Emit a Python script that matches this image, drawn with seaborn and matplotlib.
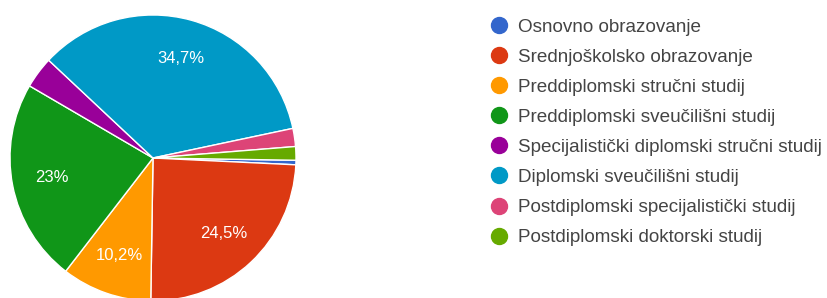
import matplotlib
matplotlib.use("Agg")
import matplotlib.pyplot as plt
from matplotlib.lines import Line2D
import seaborn as sns

categories = [
    "Osnovno obrazovanje",
    "Srednjoškolsko obrazovanje",
    "Preddiplomski stručni studij",
    "Preddiplomski sveučilišni studij",
    "Specijalistički diplomski stručni studij",
    "Diplomski sveučilišni studij",
    "Postdiplomski specijalistički studij",
    "Postdiplomski doktorski studij",
]
counts = [1, 48, 20, 45, 7, 68, 4, 3]
colors = ["#3366cc", "#dc3912", "#ff9900", "#109618",
          "#990099", "#0099c6", "#dd4477", "#66aa00"]

sns.set_theme(style="white")
plt.rcParams["font.family"] = ["Liberation Sans", "DejaVu Sans"]
palette = sns.color_palette(colors)

W, H = 828, 298
fig = plt.figure(figsize=(W / 100, H / 100), dpi=100)
fig.patch.set_facecolor("white")

cx, cy, R = 153, 158, 143
ax = fig.add_axes([(cx - R) / W, (H - cy - R) / H, 2 * R / W, 2 * R / H])


def fmt(p):
    if p < 5:
        return ""
    s = f"{p:.1f}"
    if s.endswith(".0"):
        s = s[:-2]
    return s.replace(".", ",") + "%"


wedges, texts, autotexts = ax.pie(
    counts, colors=palette, startangle=-0.9, counterclock=False,
    radius=1.0, autopct=fmt, pctdistance=0.72,
    wedgeprops=dict(edgecolor="white", linewidth=1.0),
    textprops=dict(color="white", fontsize=12),
)
ax.set_xlim(-1, 1)
ax.set_ylim(-1, 1)
ax.set_aspect("equal")
ax.axis("off")

handles = [Line2D([], [], marker="o", linestyle="", markersize=11.5,
                  markerfacecolor=c, markeredgecolor=c) for c in palette]
leg = fig.legend(handles, categories, loc="upper left",
                 bbox_to_anchor=(489.6 / W, 1 - 18.5 / H),
                 frameon=False, fontsize=13.6, labelspacing=0.68,
                 handletextpad=0.5, handlelength=1.0, borderpad=0,
                 borderaxespad=0)
for t in leg.get_texts():
    t.set_color("#444444")

fig.savefig("out.png", dpi=100, facecolor="white")
